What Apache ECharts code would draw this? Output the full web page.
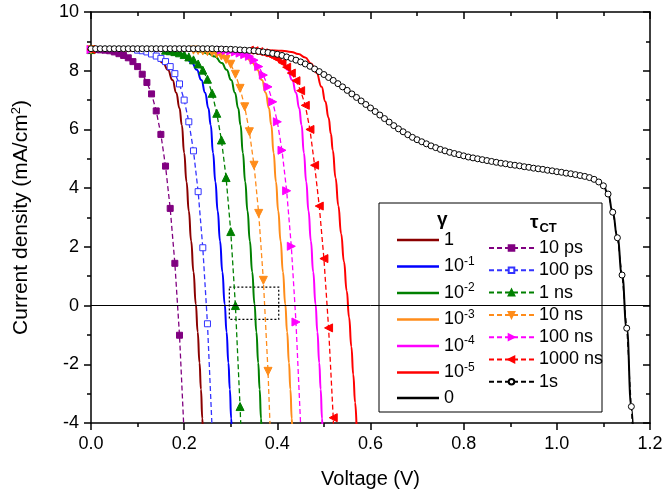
<!DOCTYPE html>
<html>
<head>
<meta charset="utf-8">
<script src="https://cdn.jsdelivr.net/npm/echarts@6/dist/echarts.min.js"></script>
<style>html,body{margin:0;padding:0;background:#fff}#c{width:666px;height:496px}</style>
</head>
<body>
<div id="c"></div>
<script>
// ---------- data ----------
const xTicks = [0.0, 0.2, 0.4, 0.6, 0.8, 1.0, 1.2];
const yTicks = [-4, -2, 0, 2, 4, 6, 8, 10];

const gammaNames = ['1', '10^-1', '10^-2', '10^-3', '10^-4', '10^-5', '0'];
const tauNames = ['10 ps', '100 ps', '1 ns', '10 ns', '100 ns', '1000 ns', '1s'];

const gamma1 = [[0,8.70],[0.060,8.70],[0.090,8.68],[0.110,8.65],[0.125,8.59],[0.140,8.48],[0.155,8.26],[0.165,8.03],[0.175,7.68],[0.183,7.25],[0.190,6.72],[0.195,6.15],[0.200,5.20],[0.205,4.22],[0.210,3.22],[0.215,2.20],[0.220,1.15],[0.225,0.05],[0.229,-0.90],[0.233,-1.95],[0.236,-2.85],[0.239,-3.85],[0.240,-4.20]];
const gamma1e1 = [[0,8.70],[0.122,8.70],[0.152,8.68],[0.172,8.65],[0.187,8.59],[0.202,8.48],[0.217,8.26],[0.227,8.03],[0.237,7.68],[0.245,7.25],[0.252,6.72],[0.257,6.15],[0.262,5.20],[0.267,4.22],[0.272,3.22],[0.277,2.20],[0.282,1.15],[0.287,0.05],[0.291,-0.90],[0.295,-1.95],[0.298,-2.85],[0.301,-3.85],[0.302,-4.20]];
const gamma1e2 = [[0,8.70],[0.186,8.70],[0.216,8.68],[0.236,8.65],[0.251,8.59],[0.266,8.48],[0.281,8.26],[0.291,8.03],[0.301,7.68],[0.309,7.25],[0.316,6.72],[0.321,6.15],[0.326,5.20],[0.331,4.22],[0.336,3.22],[0.341,2.20],[0.346,1.15],[0.351,0.05],[0.355,-0.90],[0.359,-1.95],[0.362,-2.85],[0.365,-3.85],[0.366,-4.20]];
const gamma1e3 = [[0,8.70],[0.252,8.70],[0.282,8.68],[0.302,8.65],[0.317,8.59],[0.332,8.48],[0.347,8.26],[0.357,8.03],[0.367,7.68],[0.375,7.25],[0.382,6.72],[0.387,6.15],[0.392,5.20],[0.397,4.22],[0.402,3.22],[0.407,2.20],[0.412,1.15],[0.417,0.05],[0.421,-0.90],[0.425,-1.95],[0.428,-2.85],[0.431,-3.85],[0.432,-4.20]];
const gamma1e4 = [[0,8.70],[0.317,8.70],[0.347,8.68],[0.367,8.65],[0.382,8.59],[0.397,8.48],[0.412,8.26],[0.422,8.03],[0.432,7.68],[0.440,7.25],[0.447,6.72],[0.452,6.15],[0.457,5.20],[0.462,4.22],[0.467,3.22],[0.472,2.20],[0.477,1.15],[0.482,0.05],[0.486,-0.90],[0.490,-1.95],[0.493,-2.85],[0.496,-3.85],[0.497,-4.20]];
const gamma1e5 = [[0,8.70],[0.380,8.70],[0.410,8.68],[0.430,8.64],[0.445,8.57],[0.460,8.45],[0.472,8.25],[0.484,7.93],[0.495,7.45],[0.503,6.95],[0.510,6.40],[0.515,5.85],[0.519,5.29],[0.525,4.35],[0.531,3.40],[0.537,2.45],[0.543,1.50],[0.549,0.50],[0.554,-0.40],[0.559,-1.40],[0.563,-2.35],[0.567,-3.30],[0.570,-4.10]];

const tau10ps = [[0,8.72],[0.01,8.72],[0.02,8.71],[0.03,8.70],[0.04,8.68],[0.05,8.64],[0.06,8.58],[0.07,8.52],[0.08,8.44],[0.09,8.31],[0.10,8.14],[0.11,7.88],[0.12,7.60],[0.13,7.21],[0.14,6.63],[0.15,5.83],[0.16,4.75],[0.17,3.31],[0.18,1.44],[0.19,-1.01],[0.20,-4.40]];
const tau100ps = [[0,8.72],[0.10,8.70],[0.11,8.68],[0.12,8.64],[0.13,8.57],[0.14,8.50],[0.15,8.42],[0.16,8.31],[0.17,8.14],[0.18,7.90],[0.19,7.55],[0.20,7.00],[0.21,6.26],[0.22,5.27],[0.23,3.88],[0.24,1.97],[0.25,-0.62],[0.26,-4.20]];
const tau1ns = [[0,8.72],[0.16,8.70],[0.17,8.68],[0.18,8.65],[0.19,8.61],[0.20,8.55],[0.21,8.47],[0.22,8.37],[0.23,8.23],[0.24,8.02],[0.25,7.71],[0.26,7.23],[0.27,6.55],[0.28,5.64],[0.29,4.36],[0.30,2.52],[0.31,0.00],[0.32,-3.44],[0.33,-7.50]];
const tau10ns = [[0,8.72],[0.22,8.70],[0.23,8.69],[0.24,8.67],[0.25,8.65],[0.26,8.62],[0.27,8.57],[0.28,8.50],[0.29,8.38],[0.30,8.22],[0.31,7.88],[0.32,7.40],[0.33,6.77],[0.34,5.92],[0.35,4.78],[0.36,3.14],[0.37,0.86],[0.38,-2.24],[0.39,-6.50]];
const tau100ns = [[0,8.72],[0.28,8.70],[0.29,8.69],[0.30,8.67],[0.31,8.64],[0.32,8.60],[0.33,8.55],[0.34,8.49],[0.35,8.36],[0.36,8.14],[0.37,7.85],[0.38,7.45],[0.39,6.94],[0.40,6.26],[0.41,5.29],[0.42,3.91],[0.43,2.02],[0.44,-0.56],[0.45,-4.06]];
const tau1000ns = [[0,8.72],[0.34,8.70],[0.35,8.68],[0.36,8.65],[0.37,8.61],[0.38,8.56],[0.39,8.49],[0.40,8.40],[0.41,8.28],[0.42,8.12],[0.43,7.92],[0.44,7.66],[0.45,7.32],[0.46,6.82],[0.47,6.00],[0.48,4.78],[0.49,3.39],[0.50,1.60],[0.51,-0.76],[0.52,-3.82],[0.53,-8.00]];
const tau1s = [[0.00,8.75],[0.01,8.75],[0.02,8.75],[0.03,8.75],[0.04,8.75],[0.05,8.75],[0.06,8.75],[0.07,8.75],[0.08,8.75],[0.09,8.75],
[0.10,8.75],[0.11,8.75],[0.12,8.75],[0.13,8.75],[0.14,8.75],[0.15,8.75],[0.16,8.75],[0.17,8.75],[0.18,8.75],[0.19,8.75],
[0.20,8.75],[0.21,8.75],[0.22,8.75],[0.23,8.75],[0.24,8.75],[0.25,8.75],[0.26,8.75],[0.27,8.74],[0.28,8.74],[0.29,8.73],
[0.30,8.73],[0.31,8.72],[0.32,8.71],[0.33,8.70],[0.34,8.69],[0.35,8.68],[0.36,8.66],[0.37,8.64],[0.38,8.62],[0.39,8.59],
[0.40,8.56],[0.41,8.52],[0.42,8.47],[0.43,8.42],[0.44,8.36],[0.45,8.30],[0.46,8.23],[0.47,8.15],[0.48,8.06],[0.49,7.97],
[0.50,7.87],[0.51,7.77],[0.52,7.67],[0.53,7.56],[0.54,7.45],[0.55,7.33],[0.56,7.21],[0.57,7.09],[0.58,6.97],[0.59,6.85],
[0.60,6.73],[0.61,6.61],[0.62,6.49],[0.63,6.37],[0.64,6.25],[0.65,6.13],[0.66,6.02],[0.67,5.92],[0.68,5.82],[0.69,5.73],
[0.70,5.65],[0.71,5.58],[0.72,5.51],[0.73,5.44],[0.74,5.38],[0.75,5.32],[0.76,5.27],[0.77,5.22],[0.78,5.18],[0.79,5.14],
[0.80,5.10],[0.81,5.06],[0.82,5.03],[0.83,5.00],[0.84,4.97],[0.85,4.94],[0.86,4.91],[0.87,4.88],[0.88,4.85],[0.89,4.83],
[0.90,4.80],[0.91,4.78],[0.92,4.76],[0.93,4.73],[0.94,4.71],[0.95,4.68],[0.96,4.66],[0.97,4.64],[0.98,4.61],[0.99,4.59],
[1.00,4.56],[1.01,4.54],[1.02,4.51],[1.03,4.49],[1.04,4.46],[1.05,4.43],[1.06,4.40],[1.07,4.36],[1.08,4.30],[1.09,4.21],
[1.10,4.08],[1.11,3.80],[1.12,3.18],[1.13,2.31],[1.14,1.04],[1.15,-0.77],[1.16,-3.44],[1.17,-8.00]];
const gamma0 = tau1s; // the gamma = 0 curve coincides with the 1 s curve

const zoomBox = [[0.297, 0.63], [0.403, -0.47]];

// ---------- chart ----------
const FONT = '"Liberation Sans", Arial, sans-serif';
const chart = echarts.init(document.getElementById('c'), null, {renderer: 'canvas'});

function solid(name, data, color) {
  return {name, type: 'line', data, symbol: 'none', smooth: true, smoothMonotone: 'x',
    lineStyle: {color, width: 2}, itemStyle: {color}, z: 2};
}
function dashed(name, data, color, symbol, rotate, fill, size) {
  return {name, type: 'line', data, symbol, symbolRotate: rotate, symbolSize: size,
    lineStyle: {color, width: 1.3, type: [5, 3]},
    itemStyle: {color: fill, borderColor: color, borderWidth: 1}, z: 2};
}

const gammaColors = ['#8b0000', '#0000ff', '#008000', '#ff8c1a', '#ff00ff', '#ff0000', '#000000'];
const gammaData = [gamma1, gamma1e1, gamma1e2, gamma1e3, gamma1e4, gamma1e5, gamma0];
const series = gammaData.map((d, i) => solid(gammaNames[i], d, gammaColors[i]));
series[0].markLine = {silent: true, symbol: 'none', label: {show: false},
  lineStyle: {color: '#000', width: 1, type: 'solid'}, data: [{yAxis: 0}]};
series[0].markArea = {silent: true,
  itemStyle: {color: 'rgba(0,0,0,0)', borderColor: '#000', borderWidth: 1.2, borderType: [2, 2]},
  data: [[{coord: zoomBox[0]}, {coord: zoomBox[1]}]]};

series.push(dashed(tauNames[0], tau10ps, '#800080', 'rect', 0, '#800080', 6));
series.push(dashed(tauNames[1], tau100ps, '#3333ff', 'rect', 0, '#ffffff', 6));
series.push(dashed(tauNames[2], tau1ns, '#008000', 'triangle', 0, '#008000', 8));
series.push(dashed(tauNames[3], tau10ns, '#ff8c1a', 'triangle', 180, '#ff8c1a', 8));
series.push(dashed(tauNames[4], tau100ns, '#ff00ff', 'triangle', -90, '#ff00ff', 8));
series.push(dashed(tauNames[5], tau1000ns, '#ff0000', 'triangle', 90, '#ff0000', 8));
const s1 = dashed(tauNames[6], tau1s, '#000000', 'circle', 0, '#ffffff', 6);
s1.lineStyle.width = 1; s1.z = 3;
series.push(s1);

const axisLine = {onZero: false, lineStyle: {color: '#000', width: 1.5}};
const tickStyle = {color: '#000', width: 1.5};

const option = {
  animation: false,
  backgroundColor: '#fff',
  textStyle: {fontFamily: FONT},
  grid: {left: 91, right: 16, top: 12, bottom: 73, containLabel: false},
  xAxis: [
    {type: 'value', min: xTicks[0], max: xTicks[xTicks.length - 1], interval: 0.2, position: 'bottom',
     axisLine, axisTick: {inside: false, length: 7, lineStyle: tickStyle},
     minorTick: {show: true, splitNumber: 2, length: 4, lineStyle: tickStyle},
     splitLine: {show: false},
     axisLabel: {formatter: v => v.toFixed(1), fontSize: 18, color: '#000', margin: 12, fontFamily: FONT},
     name: 'Voltage (V)', nameLocation: 'middle', nameGap: 46,
     nameTextStyle: {fontSize: 20, color: '#000', fontFamily: FONT}},
    {type: 'value', min: xTicks[0], max: xTicks[xTicks.length - 1], interval: 0.2, position: 'top',
     axisLine, axisTick: {inside: true, length: 7, lineStyle: tickStyle},
     minorTick: {show: true, splitNumber: 2, length: 4, lineStyle: tickStyle},
     splitLine: {show: false}, axisLabel: {show: false}}
  ],
  yAxis: [
    {type: 'value', min: yTicks[0], max: yTicks[yTicks.length - 1], interval: 2, position: 'left',
     axisLine, axisTick: {inside: false, length: 7, lineStyle: tickStyle},
     minorTick: {show: true, splitNumber: 2, length: 4, lineStyle: tickStyle},
     splitLine: {show: false},
     axisLabel: {fontSize: 18, color: '#000', margin: 12, fontFamily: FONT},
     name: 'Current density (mA/cm{sup|2})', nameLocation: 'middle', nameGap: 58,
     nameTextStyle: {fontSize: 21, color: '#000', fontFamily: FONT,
       rich: {sup: {fontSize: 13, color: '#000', fontFamily: FONT, verticalAlign: 'top', padding: [0, 0, 10, 0]}}}},
    {type: 'value', min: yTicks[0], max: yTicks[yTicks.length - 1], interval: 2, position: 'right',
     axisLine, axisTick: {inside: true, length: 7, lineStyle: tickStyle},
     minorTick: {show: true, splitNumber: 2, length: 4, lineStyle: tickStyle},
     splitLine: {show: false}, axisLabel: {show: false}}
  ],
  graphic: [{type: 'rect', z: 5, shape: {x: 379, y: 203, width: 223, height: 209},
    style: {fill: '#fff', stroke: '#000', lineWidth: 1}}],
  title: [
    {text: 'γ', left: 437, top: 210, padding: 0, z: 7,
     textStyle: {fontSize: 19, fontWeight: 'bold', color: '#000', fontFamily: FONT}},
    {text: 'τ{sub|CT}', left: 530, top: 210, padding: 0, z: 7,
     textStyle: {fontSize: 19, fontWeight: 'bold', color: '#000', fontFamily: FONT,
       rich: {sub: {fontSize: 13, fontWeight: 'bold', color: '#000', fontFamily: FONT, padding: [12, 0, 0, 1]}}}}
  ],
  legend: [
    {data: gammaNames, orient: 'vertical', left: 397, top: 230, padding: 0, z: 7,
     icon: 'rect', itemWidth: 42, itemHeight: 2.5, itemGap: 5.5, selectedMode: false,
     formatter: n => n.indexOf('^') >= 0 ? '10{sup|' + n.split('^')[1] + '}' : n,
     textStyle: {fontSize: 18, color: '#000', fontFamily: FONT, lineHeight: 20,
       rich: {sup: {fontSize: 12, color: '#000', fontFamily: FONT, padding: [0, 0, 10, 0]}}}},
    {data: tauNames, orient: 'vertical', left: 488, top: 239, padding: 0, z: 7,
     itemWidth: 45, itemHeight: 7, itemGap: 4.3, selectedMode: false,
     textStyle: {fontSize: 18, color: '#000', fontFamily: FONT, lineHeight: 18}}
  ],
  series
};
chart.setOption(option);
</script>
</body>
</html>
